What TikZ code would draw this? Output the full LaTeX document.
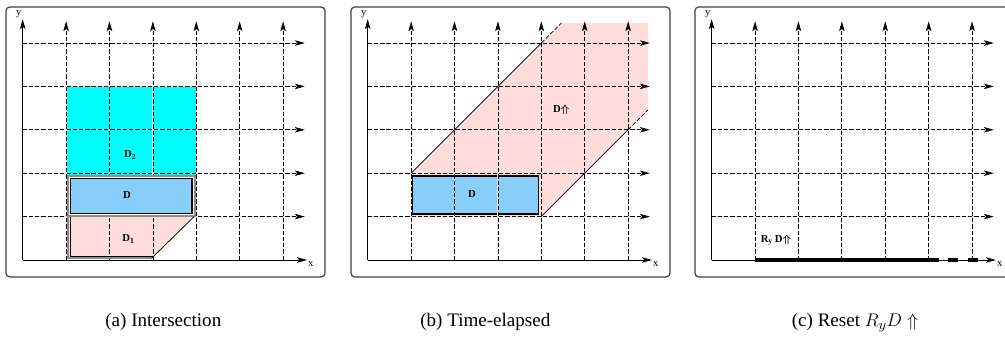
\documentclass[tikz,border=0pt]{standalone}
\usepackage{amsmath,amssymb}
\usepackage{fontspec}
\setmainfont{Liberation Serif}
\usetikzlibrary{arrows.meta}

\definecolor{regionpink}{RGB}{255,221,221}
\definecolor{regionblue}{RGB}{135,206,250}
\definecolor{regioncyan}{RGB}{0,255,255}
\definecolor{gridpink}{RGB}{245,222,222}

\begin{document}
\begin{tikzpicture}[
    >={Stealth[length=6.5pt,width=3.6pt,inset=1.5pt]},
    panel/.style={draw=black!75, line width=0.8pt, rounded corners=2.5pt},
    gridhalo/.style={draw=gridpink, line width=0.6pt},
    gridline/.style={draw=black, line width=0.5pt, dash pattern=on 2.8pt off 1.3pt},
    axis/.style={draw=black, line width=0.6pt},
    dbox/.style={draw=black, line width=0.8pt, fill=regionblue},
    outerbox/.style={draw=black!45, line width=1.1pt, fill=white},
    edge/.style={draw=black, line width=0.5pt},
    edgedash/.style={edge, dash pattern=on 2.8pt off 1.3pt},
    resetline/.style={draw=black, line width=2.2pt},
    lbl/.style={font=\rmfamily\fontsize{7}{8}\selectfont\bfseries, inner sep=0.5pt},
    axlbl/.style={font=\rmfamily\fontsize{7}{8}\selectfont, inner sep=0.5pt},
    caption/.style={font=\rmfamily\fontsize{12.5}{14}\selectfont, anchor=base}
  ]
  \useasboundingbox (-0.523,-2.143) rectangle (22.634,5.991);

  % frames of the three panels
  \foreach \sx in {0,7.95,15.875}
    \draw[panel] (\sx-0.385,-0.39) rectangle (\sx+6.965,5.83);

  % regions lying under the grid
  \fill[regioncyan] (1,1) rectangle (4,4);
  \fill[regionpink] (1.05,1) -- (1.05,0.04) -- (2.97,0.04) -- (3.95,1) -- cycle;
  \begin{scope}[xshift=7.95cm]
    \fill[regionpink] (1,1) -- (1,2) -- (4.46,5.46) -- (6.46,5.46) -- (6.46,3.46) -- (4,1) -- cycle;
    \draw[dbox] (1.04,1.06) rectangle (3.93,1.935);
  \end{scope}

  % grid and axes
  \foreach \sx/\pn in {0/a,7.95/b,15.875/c} {
    \begin{scope}[xshift=\sx cm]
      \foreach \k in {1,...,5} {
        \draw[gridhalo] (0,\k) -- (6.3,\k);
        \draw[gridline,->] (0,\k) -- (6.5,\k);
      }
      \foreach \k in {1,...,6} {
        \draw[gridhalo] (\k,0) -- (\k,5.3);
        \draw[gridline,->] (\k,0) -- (\k,5.5);
      }
      \draw[axis,->] (0,0) -- (6.55,0) node[axlbl, below right] (x\pn) {x};
      \draw[axis,->] (0,0) -- (0,5.55) node[axlbl, above left] (y\pn) {y};
    \end{scope}
  }

  % (a) intersection
  \draw[outerbox] (1.04,1.02) rectangle (3.97,1.94);
  \draw[dbox] (1.11,1.08) rectangle (3.9,1.87);
  \draw[draw=black!45, line width=1.1pt] (1.05,1) |- (2.97,0.04);
  \draw[edge] (1.09,1) |- (3.01,0.08);
  \draw[edge] (2.97,0.04) -- (3.95,1);
  \node[lbl] (dtwo) at (2.48,2.42) {D\textsubscript{2}};
  \node[lbl] (da) at (2.4,1.5) {D};
  \node[lbl] (done) at (2.44,0.48) {D\textsubscript{1}};

  % (b) time-elapsed
  \begin{scope}[xshift=7.95cm]
    \draw[edge] (1,2) -- (4,5);
    \draw[edgedash] (4,5) -- (4.46,5.46);
    \draw[edge] (4,1) -- (6,3);
    \draw[edgedash] (6,3) -- (6.46,3.46);
    \node[lbl] (db) at (2.4,1.52) {D};
    \node[lbl] (dup) at (4.46,3.46) {D$\boldsymbol{\Uparrow}$};
  \end{scope}

  % (c) reset
  \begin{scope}[xshift=15.875cm]
    \draw[resetline] (1,0) -- (5,0);
    \draw[resetline, dash pattern=on 6.5pt off 6.5pt] (5,0) -- (6.15,0);
    \node[lbl] (rdup) at (1.48,0.46) {R\textsubscript{y}\,D$\boldsymbol{\Uparrow}$};
  \end{scope}

  % captions
  \node[caption] (capa) at (3.24,-1.53) {(a) Intersection};
  \node[caption] (capb) at (10.66,-1.53) {(b) Time-elapsed};
  \node[caption] (capc) at (19.18,-1.53) {(c) Reset $R_yD \Uparrow$};
\end{tikzpicture}
\end{document}
